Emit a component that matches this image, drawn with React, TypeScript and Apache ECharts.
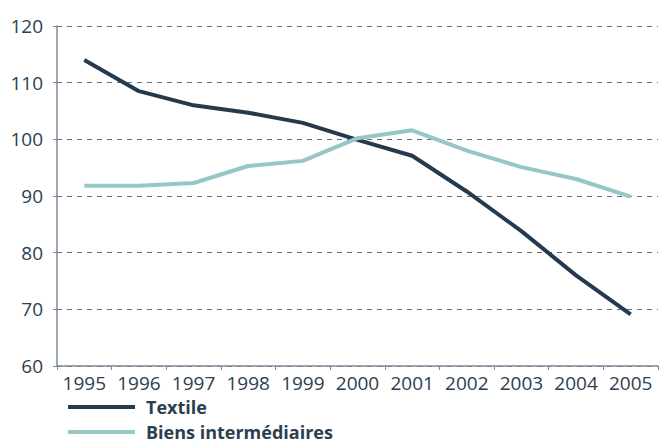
import React, { useEffect, useRef } from "react";
import * as echarts from "echarts";

const years = ["1995", "1996", "1997", "1998", "1999", "2000", "2001", "2002", "2003", "2004", "2005"];
const textile = [114, 108.5, 106, 104.7, 102.9, 99.9, 97.1, 90.8, 83.8, 76, 69.1];
const biens = [91.8, 91.8, 92.3, 95.3, 96.2, 100.2, 101.6, 98, 95.1, 93, 89.9];
const yTicks = { min: 60, max: 120, interval: 10 };

const TEXT = "#2c3e50";
const FONT = "'Open Sans', sans-serif";

export default function App() {
  const ref = useRef<HTMLDivElement>(null);
  useEffect(() => {
    const chart = echarts.init(ref.current!, null, { renderer: "svg" });
    chart.setOption({
      animation: false,
      grid: { left: 57, right: 2, top: 26, bottom: 80, containLabel: false },
      legend: {
        orient: "vertical",
        left: 68,
        top: 398,
        padding: 0,
        height: 60,
        itemGap: 7,
        itemWidth: 67,
        itemHeight: 4,
        icon: "rect",
        textStyle: {
          color: TEXT,
          fontFamily: FONT,
          fontWeight: "bold",
          fontSize: 18,
          lineHeight: 18,
          padding: [0, 0, 0, 6],
        },
        data: ["Textile", "Biens intermédiaires"],
      },
      xAxis: {
        type: "category",
        data: years,
        boundaryGap: true,
        axisLine: { lineStyle: { color: "#7d8b99", width: 1.5 } },
        axisTick: { show: true, length: 4, lineStyle: { color: "#7d8b99" } },
        axisLabel: { color: TEXT, fontFamily: FONT, fontSize: 19, margin: 7, interval: 0 },
      },
      yAxis: {
        type: "value",
        min: yTicks.min,
        max: yTicks.max,
        interval: yTicks.interval,
        axisLine: { show: true, lineStyle: { color: "#7d8b99", width: 1.5 } },
        axisTick: { show: true, length: 4, lineStyle: { color: "#7d8b99" } },
        axisLabel: { color: TEXT, fontFamily: FONT, fontSize: 19, margin: 14 },
        splitLine: { show: true, lineStyle: { color: "#5f7083", type: [5, 5], width: 1 } },
      },
      series: [
        {
          name: "Textile",
          type: "line",
          data: textile,
          symbol: "none",
          color: "#263a4e",
          lineStyle: { width: 4, color: "#263a4e" },
        },
        {
          name: "Biens intermédiaires",
          type: "line",
          data: biens,
          symbol: "none",
          color: "#97c6c6",
          lineStyle: { width: 4, color: "#97c6c6" },
        },
      ],
    });
    return () => chart.dispose();
  }, []);
  return <div ref={ref} style={{ width: 660, height: 446, position: "absolute", left: 0, top: 0 }} />;
}
